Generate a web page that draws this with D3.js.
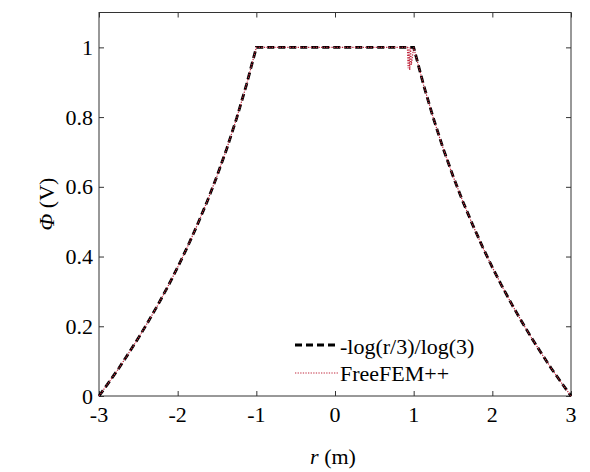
<!DOCTYPE html>
<html><head><meta charset="utf-8">
<script src="https://cdn.jsdelivr.net/npm/d3@7"></script>
</head><body style="margin:0;background:#fff">
<svg id="c" width="590" height="472" style="display:block"></svg>
<script>
// Analytic curve -log(r/3)/log(3)
const rAnalytic = [-3,-2.875,-2.75,-2.625,-2.5,-2.375,-2.25,-2.125,-2,-1.875,-1.75,-1.625,-1.5,-1.375,-1.25,-1.125,-1,
  1,1.125,1.25,1.375,1.5,1.625,1.75,1.875,2,2.125,2.25,2.375,2.5,2.625,2.75,2.875,3];
const phiAnalytic = [0,0.039,0.079,0.122,0.166,0.213,0.262,0.314,0.369,0.428,0.491,0.558,0.631,0.710,0.797,0.893,1,
  1,0.893,0.797,0.710,0.631,0.558,0.491,0.428,0.369,0.314,0.262,0.213,0.166,0.122,0.079,0.039,0];
// FreeFEM++ solution
const rFem = [-3,-2.875,-2.75,-2.625,-2.5,-2.375,-2.25,-2.125,-2,-1.875,-1.75,-1.625,-1.5,-1.375,-1.25,-1.125,-1,
  0.92,0.93,0.94,0.95,0.96,0.97,1,1.125,1.25,1.375,1.5,1.625,1.75,1.875,2,2.125,2.25,2.375,2.5,2.625,2.75,2.875,3];
const phiFem = [0,0.039,0.079,0.122,0.166,0.213,0.262,0.314,0.369,0.428,0.491,0.558,0.631,0.710,0.797,0.893,1,
  1,0.94,1,0.935,1,0.95,1,0.893,0.797,0.710,0.631,0.558,0.491,0.428,0.369,0.314,0.262,0.213,0.166,0.122,0.079,0.039,0];
const xTicks = [-3,-2,-1,0,1,2,3];
const xTickLabels = ["-3","-2","-1","0","1","2","3"];
const yTicks = [0,0.2,0.4,0.6,0.8,1];
const yTickLabels = ["0","0.2","0.4","0.6","0.8","1"];
const legendLabels = ["-log(r/3)/log(3)","FreeFEM++"];

const svg = d3.select("#c");
const L=99,R=571,T=12.5,B=396;
const x = d3.scaleLinear().domain([-3,3]).range([L,R]);
const y = d3.scaleLinear().domain([0,1.1]).range([B,T]);
const axisCol="#333";
const fs=22;

function txt(parent, s, ax, ay, anchor){
  const t = parent.append("text").attr("x",ax).attr("y",ay).attr("font-size",fs).attr("font-family","Liberation Serif").attr("fill","#000");
  if(anchor) t.attr("text-anchor",anchor);
  if(s!==null) t.text(s);
  return t;
}

svg.append("rect").attr("x",L).attr("y",T).attr("width",R-L).attr("height",B-T)
  .attr("fill","none").attr("stroke",axisCol).attr("stroke-width",1);

// ticks via d3 axes (labels drawn separately)
const gx=svg.append("g").attr("transform",`translate(0,${B})`)
  .call(d3.axisBottom(x).tickValues(xTicks).tickSize(-5).tickFormat(""));
const gxt=svg.append("g").attr("transform",`translate(0,${T})`)
  .call(d3.axisTop(x).tickValues(xTicks).tickSize(-5).tickFormat(""));
const gy=svg.append("g").attr("transform",`translate(${L},0)`)
  .call(d3.axisLeft(y).tickValues(yTicks).tickSize(-5).tickFormat(""));
const gyr=svg.append("g").attr("transform",`translate(${R},0)`)
  .call(d3.axisRight(y).tickValues(yTicks).tickSize(-5).tickFormat(""));
[gx,gxt,gy,gyr].forEach(g=>{
  g.select(".domain").remove();
  g.selectAll(".tick line").attr("stroke",axisCol);
  g.selectAll("text").remove();
});
xTicks.forEach((v,i)=>txt(svg, xTickLabels[i], x(v), B+26, "middle"));
yTicks.forEach((v,i)=>txt(svg, yTickLabels[i], L-6, y(v)+7.5, "end"));

const line = d3.line().x(d=>x(d[0])).y(d=>y(d[1]));
const anaData = rAnalytic.map((r,i)=>[r,phiAnalytic[i]]);
const femData = rFem.map((r,i)=>[r,phiFem[i]]);
svg.append("path").attr("d",line(anaData)).attr("fill","none")
  .attr("stroke","#000").attr("stroke-width",2.8).attr("stroke-dasharray","7,4");
svg.append("path").attr("d",line(femData)).attr("fill","none")
  .attr("stroke","#c0283e").attr("stroke-width",1.2).attr("stroke-dasharray","1.3,1.3");

svg.append("line").attr("x1",295).attr("x2",337).attr("y1",345).attr("y2",345)
  .attr("stroke","#000").attr("stroke-width",2.8).attr("stroke-dasharray","7,4");
txt(svg, legendLabels[0], 340, 354);
svg.append("line").attr("x1",295).attr("x2",338).attr("y1",373).attr("y2",373)
  .attr("stroke","#c0283e").attr("stroke-width",1.2).attr("stroke-dasharray","1.3,1.3");
txt(svg, legendLabels[1], 340, 381);

const xl=txt(svg, null, 333, 464, "middle");
xl.append("tspan").attr("font-style","italic").text("r");
xl.append("tspan").text(" (m)");
const yl=txt(svg, null, 0, 0, "middle").attr("transform","translate(54,204) rotate(-90)");
yl.append("tspan").attr("font-style","italic").text("Φ");
yl.append("tspan").text(" (V)");
</script>
</body></html>
